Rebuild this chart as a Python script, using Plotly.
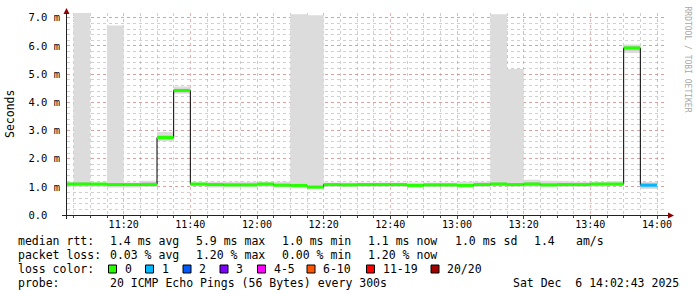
import plotly.graph_objects as go

# ---------------- data ----------------
bin_start = ["11:00", "11:05", "11:10", "11:15", "11:20", "11:25", "11:30", "11:35", "11:40",
             "11:45", "11:50", "11:55", "12:00", "12:05", "12:10", "12:15", "12:20", "12:25",
             "12:30", "12:35", "12:40", "12:45", "12:50", "12:55", "13:00", "13:05", "13:10",
             "13:15", "13:20", "13:25", "13:30", "13:35", "13:40", "13:45", "13:50", "13:55"]
data_end = "14:00"
median_ms = [1.10, 1.10, 1.10, 1.08, 1.08, 1.08, 2.75, 4.42, 1.10,
             1.08, 1.07, 1.07, 1.10, 1.06, 1.05, 0.99, 1.08, 1.07,
             1.08, 1.08, 1.08, 1.05, 1.07, 1.07, 1.05, 1.08, 1.10,
             1.08, 1.10, 1.07, 1.08, 1.08, 1.10, 1.10, 5.93, 1.06]
loss_count = [0] * 35 + [1]
ping_min_ms = [1.00, 1.00, 1.00, 0.98, 0.98, 1.00, 2.62, 4.30, 1.02,
               0.98, 0.98, 0.98, 1.00, 0.98, 0.95, 0.93, 1.00, 1.00,
               1.00, 1.00, 1.00, 0.98, 1.00, 1.00, 0.98, 1.00, 1.02,
               1.00, 1.00, 0.98, 1.00, 1.00, 1.00, 1.02, 5.75, 0.92]
ping_max_ms = [1.18, 7.20, 1.15, 6.73, 1.15, 1.22, 2.95, 4.56, 1.15,
               1.18, 1.18, 1.18, 1.18, 1.18, 7.13, 7.09, 1.15, 1.15,
               1.15, 1.15, 1.15, 1.15, 1.15, 1.15, 1.18, 1.18, 7.13,
               5.18, 1.25, 1.22, 1.20, 1.18, 1.18, 1.20, 6.05, 1.17]
inner_lo_ms = [1.04, 1.04, 1.04, 1.02, 1.02, 1.03, 2.68, 4.36, 1.05,
               1.02, 1.02, 1.02, 1.04, 1.01, 0.99, 0.95, 1.03, 1.02,
               1.03, 1.03, 1.03, 1.00, 1.02, 1.02, 1.00, 1.03, 1.05,
               1.03, 1.05, 1.02, 1.03, 1.03, 1.05, 1.05, 5.84, 0.98]
inner_hi_ms = [1.14, 1.16, 1.13, 1.12, 1.12, 1.16, 2.82, 4.48, 1.13,
               1.12, 1.11, 1.11, 1.14, 1.10, 1.10, 1.04, 1.12, 1.11,
               1.12, 1.12, 1.12, 1.09, 1.11, 1.11, 1.09, 1.12, 1.15,
               1.13, 1.16, 1.12, 1.13, 1.12, 1.14, 1.14, 5.99, 1.12]

loss_labels = ["0", "1", "2", "3", "4-5", "6-10", "11-19", "20/20"]
loss_colors = ["#26ff00", "#00b8ff", "#0059ff", "#7e00ff", "#ff00ff", "#ff5500", "#ff0000", "#a10000"]
loss_upper = [0, 1, 2, 3, 5, 10, 19, 20]

ytick_vals = [0, 1, 2, 3, 4, 5, 6, 7]
ytick_text = ["0.0\u00a0\u00a0", "1.0 m", "2.0 m", "3.0 m", "4.0 m", "5.0 m", "6.0 m", "7.0 m"]

rtt_label = "median rtt:"
rtt_items = ["1.4 ms avg", "5.9 ms max", "1.0 ms min", "1.1 ms now", "1.0 ms sd", "1.4", "am/s"]
loss_label = "packet loss:"
loss_items = ["0.03 % avg", "1.20 % max", "0.00 % min", "1.20 % now"]
color_label = "loss color:"
probe_label = "probe:"
probe_text = "20 ICMP Echo Pings (56 Bytes) every 300s"
stamp_text = "Sat Dec  6 14:02:43 2025"
y_title = "Seconds"
watermark = "RRDTOOL / TOBI OETIKER"
day = "2025-12-06 "
x_range = ["11:03:00", "14:03:00"]

# ---------------- layout helpers ----------------
W, H = 697, 297
L, R, T, B = 67, 30, 13, 82
PW = W - L - R
PH = H - T - B


def px(x):
    return (x - L) / PW


def py(y):
    return (H - B - y) / PH


MONO = "DejaVu Sans Mono"

xs = [day + s for s in bin_start] + [day + data_end]


def ext(v):
    return list(v) + [v[-1]]


fig = go.Figure()

# outer smoke
fig.add_trace(go.Scatter(x=xs, y=ext(ping_min_ms), mode="lines", line=dict(width=0, shape="hv"),
                         hoverinfo="skip", showlegend=False))
fig.add_trace(go.Scatter(x=xs, y=ext(ping_max_ms), mode="lines", line=dict(width=0, shape="hv"),
                         fill="tonexty", fillcolor="#dcdcdc", hoverinfo="skip", showlegend=False))
# inner smoke
fig.add_trace(go.Scatter(x=xs, y=ext(inner_lo_ms), mode="lines", line=dict(width=0, shape="hv"),
                         hoverinfo="skip", showlegend=False))
fig.add_trace(go.Scatter(x=xs, y=ext(inner_hi_ms), mode="lines", line=dict(width=0, shape="hv"),
                         fill="tonexty", fillcolor="#c4c4c4", hoverinfo="skip", showlegend=False))
# median line
fig.add_trace(go.Scatter(x=xs, y=ext(median_ms), mode="lines", line=dict(width=1, shape="hv", color="#000000"),
                         hoverinfo="skip", showlegend=False))


def level_of(n):
    for i, u in enumerate(loss_upper):
        if n <= u:
            return i
    return len(loss_upper) - 1


for li, col in enumerate(loss_colors):
    sx, sy = [], []
    for i, m in enumerate(median_ms):
        if level_of(loss_count[i]) == li:
            sx += [xs[i], xs[i + 1], None]
            sy += [m, m, None]
    if sx:
        fig.add_trace(go.Scatter(x=sx, y=sy, mode="lines", line=dict(width=3, color=col),
                                 hoverinfo="skip", showlegend=False))

major_grid = "rgba(225,120,120,0.55)"
minor_grid = "rgba(170,170,170,0.55)"

fig.update_xaxes(
    type="date", range=[day + x_range[0], day + x_range[1]],
    tick0=day + "11:00", dtick=20 * 60 * 1000, tickformat="%H:%M",
    showgrid=True, gridcolor=major_grid, griddash="dot", gridwidth=1,
    minor=dict(dtick=5 * 60 * 1000, tick0=day + "11:00", showgrid=True, gridcolor=minor_grid,
               griddash="dot", gridwidth=1, ticks="outside", ticklen=2, tickcolor="#444"),
    ticks="outside", ticklen=3, tickcolor="#444", ticklabelstandoff=-3,
    tickfont=dict(family=MONO, size=10, color="#000"),
    showline=False, zeroline=False, layer="above traces", fixedrange=True,
)
fig.update_yaxes(
    range=[0, 7.17], tickmode="array", tickvals=ytick_vals, ticktext=ytick_text,
    showgrid=True, gridcolor=major_grid, griddash="dot", gridwidth=1,
    minor=dict(tickmode="linear", tick0=0, dtick=0.2, showgrid=True, gridcolor=minor_grid,
               griddash="dot", gridwidth=1),
    ticks="", ticklabelstandoff=6,
    tickfont=dict(family=MONO, size=10.5, color="#000"),
    showline=False, zeroline=False, layer="above traces", fixedrange=True,
)

shapes = []
axis_col = "#222222"
arrow_col = "#8b0000"
# axis lines
shapes.append(dict(type="line", xref="paper", yref="paper", x0=px(62), x1=px(669), y0=py(215.5), y1=py(215.5),
                   line=dict(color=axis_col, width=1)))
shapes.append(dict(type="line", xref="paper", yref="paper", x0=px(66.5), x1=px(66.5), y0=py(219), y1=py(12),
                   line=dict(color=axis_col, width=1)))
# arrows
shapes.append(dict(type="path", xref="paper", yref="paper",
                   path=f"M {px(674)} {py(215.5)} L {px(668)} {py(212.5)} L {px(668)} {py(218.5)} Z",
                   fillcolor=arrow_col, line=dict(width=0)))
shapes.append(dict(type="path", xref="paper", yref="paper",
                   path=f"M {px(66.5)} {py(8)} L {px(63.5)} {py(14)} L {px(69.5)} {py(14)} Z",
                   fillcolor=arrow_col, line=dict(width=0)))

annotations = []
FS = 11.5


def text(x, y, s, anchor="left", size=FS, color="#000", angle=0):
    annotations.append(dict(x=px(x), y=py(y), xref="paper", yref="paper", text=s, showarrow=False,
                            xanchor=anchor, yanchor="middle", textangle=angle,
                            font=dict(family=MONO, size=size, color=color)))


row_y = [241, 255, 269, 283]
text(16, row_y[0], rtt_label)
for s, x in zip(rtt_items, [108, 194, 280, 366, 453, 532, 574]):
    text(x, row_y[0], s)
text(16, row_y[1], loss_label)
for s, x in zip(loss_items, [108, 194, 280, 366]):
    text(x, row_y[1], s)
text(16, row_y[2], color_label)
box_x = [108.5, 145.5, 183, 220, 257.5, 307, 366.5, 431]
for lab, col, bx in zip(loss_labels, loss_colors, box_x):
    shapes.append(dict(type="rect", xref="paper", yref="paper", x0=px(bx), x1=px(bx + 8),
                       y0=py(row_y[2] - 4), y1=py(row_y[2] + 4), fillcolor=col,
                       line=dict(color="#000", width=1)))
    text(bx + 14, row_y[2], lab)
text(16, row_y[3], probe_label)
text(108, row_y[3], probe_text)
text(681, row_y[3], stamp_text, anchor="right")

# y title
text(10, 114, y_title, anchor="center", angle=-90)
# watermark
annotations.append(dict(x=px(686.5), y=py(59), xref="paper", yref="paper", text=watermark, showarrow=False,
                        xanchor="center", yanchor="middle", textangle=90,
                        font=dict(family=MONO, size=8, color="#a8a8a8")))

fig.update_layout(
    width=W, height=H, margin=dict(l=L, r=R, t=T, b=B, pad=0),
    paper_bgcolor="#ffffff", plot_bgcolor="#ffffff",
    shapes=shapes, annotations=annotations, showlegend=False,
)

fig.write_html("out.html")
